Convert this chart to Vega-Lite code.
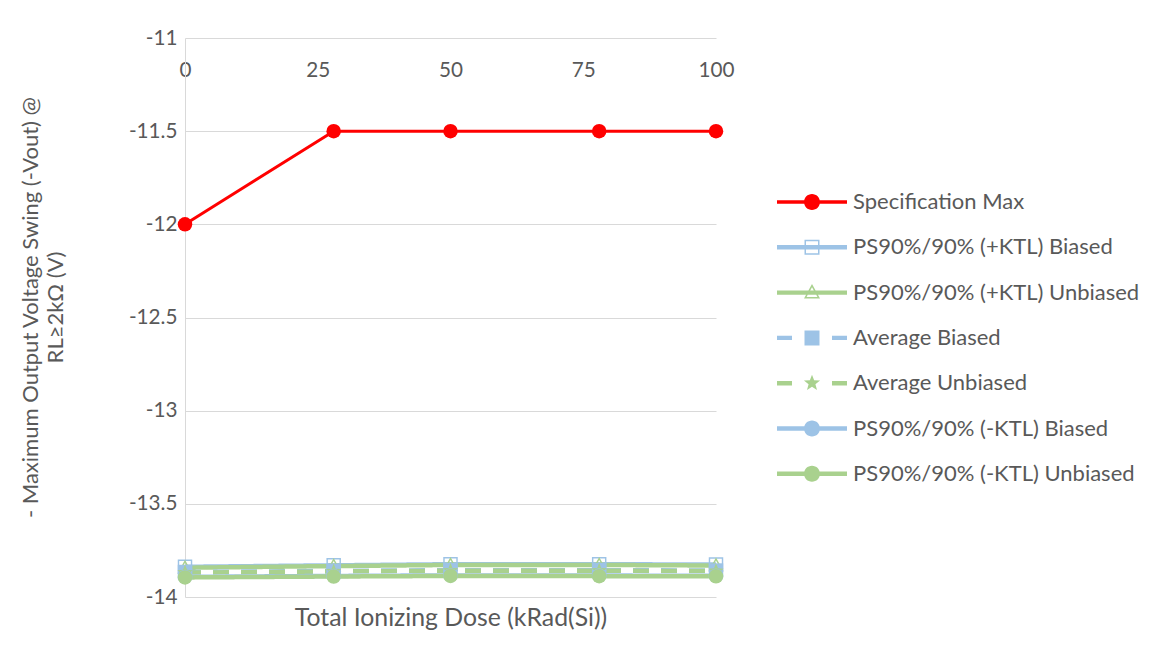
{
  "$schema": "https://vega.github.io/schema/vega-lite/v6.json",
  "width": 531,
  "height": 559,
  "autosize": {"type": "none"},
  "padding": {"left": 185, "top": 38, "right": 433, "bottom": 63},
  "background": "white",
  "config": {
    "view": {"stroke": null},
    "font": "Lato",
    "axis": {"labelFont": "Lato", "titleFont": "Lato"},
    "legend": {"labelFont": "Lato"}
  },
  "data": {
    "values": [
      {"series": "Specification Max", "dose": 0, "v": -12},
      {"series": "Specification Max", "dose": 28, "v": -11.5},
      {"series": "Specification Max", "dose": 50, "v": -11.5},
      {"series": "Specification Max", "dose": 78, "v": -11.5},
      {"series": "Specification Max", "dose": 100, "v": -11.5},
      {"series": "PS90%/90% (+KTL) Biased", "dose": 0, "v": -13.838},
      {"series": "PS90%/90% (+KTL) Biased", "dose": 28, "v": -13.83},
      {"series": "PS90%/90% (+KTL) Biased", "dose": 50, "v": -13.824},
      {"series": "PS90%/90% (+KTL) Biased", "dose": 78, "v": -13.824},
      {"series": "PS90%/90% (+KTL) Biased", "dose": 100, "v": -13.826},
      {"series": "PS90%/90% (+KTL) Unbiased", "dose": 0, "v": -13.843},
      {"series": "PS90%/90% (+KTL) Unbiased", "dose": 28, "v": -13.834},
      {"series": "PS90%/90% (+KTL) Unbiased", "dose": 50, "v": -13.828},
      {"series": "PS90%/90% (+KTL) Unbiased", "dose": 78, "v": -13.828},
      {"series": "PS90%/90% (+KTL) Unbiased", "dose": 100, "v": -13.831},
      {"series": "Average Biased", "dose": 0, "v": -13.866},
      {"series": "Average Biased", "dose": 28, "v": -13.86},
      {"series": "Average Biased", "dose": 50, "v": -13.856},
      {"series": "Average Biased", "dose": 78, "v": -13.856},
      {"series": "Average Biased", "dose": 100, "v": -13.858},
      {"series": "Average Unbiased", "dose": 0, "v": -13.869},
      {"series": "Average Unbiased", "dose": 28, "v": -13.863},
      {"series": "Average Unbiased", "dose": 50, "v": -13.859},
      {"series": "Average Unbiased", "dose": 78, "v": -13.859},
      {"series": "Average Unbiased", "dose": 100, "v": -13.861},
      {"series": "PS90%/90% (-KTL) Biased", "dose": 0, "v": -13.892},
      {"series": "PS90%/90% (-KTL) Biased", "dose": 28, "v": -13.887},
      {"series": "PS90%/90% (-KTL) Biased", "dose": 50, "v": -13.884},
      {"series": "PS90%/90% (-KTL) Biased", "dose": 78, "v": -13.885},
      {"series": "PS90%/90% (-KTL) Biased", "dose": 100, "v": -13.886},
      {"series": "PS90%/90% (-KTL) Unbiased", "dose": 0, "v": -13.895},
      {"series": "PS90%/90% (-KTL) Unbiased", "dose": 28, "v": -13.89},
      {"series": "PS90%/90% (-KTL) Unbiased", "dose": 50, "v": -13.887},
      {"series": "PS90%/90% (-KTL) Unbiased", "dose": 78, "v": -13.888},
      {"series": "PS90%/90% (-KTL) Unbiased", "dose": 100, "v": -13.889}
    ]
  },
  "encoding": {
    "x": {
      "field": "dose",
      "type": "quantitative",
      "scale": {"domain": [0, 100], "nice": false, "zero": false},
      "axis": {
        "orient": "bottom",
        "values": [0, 25, 50, 75, 100],
        "labelExpr": "'' + datum.value",
        "domain": false,
        "ticks": false,
        "tickSize": 0,
        "grid": false,
        "labelFlush": false,
        "labelOverlap": false,
        "labelPadding": -527,
        "labelBaseline": "middle",
        "labelFontSize": 20.7,
        "labelColor": "#595959",
        "title": "Total Ionizing Dose (kRad(Si))",
        "titleY": 21,
        "titleBaseline": "middle",
        "titleFontSize": 24.8,
        "titleFontWeight": "normal",
        "titleColor": "#595959"
      }
    },
    "y": {
      "field": "v",
      "type": "quantitative",
      "scale": {"domain": [-14, -11], "nice": false, "zero": false},
      "axis": {
        "values": [-14, -13.5, -13, -12.5, -12, -11.5, -11],
        "labelExpr": "'' + datum.value",
        "domain": true,
        "domainColor": "#D9D9D9",
        "domainWidth": 1,
        "ticks": false,
        "tickSize": 0,
        "grid": true,
        "gridColor": "#D9D9D9",
        "gridWidth": 1,
        "labelFlush": false,
        "labelOverlap": false,
        "labelPadding": 8,
        "labelFontSize": 20.7,
        "labelColor": "#595959",
        "title": ["- Maximum Output Voltage Swing (-Vout) @", "RL≥2kΩ (V)"],
        "titleX": -165,
        "titleY": 269,
        "titleAngle": -90,
        "titleAlign": "center",
        "titleBaseline": "top",
        "titleLineHeight": 25,
        "titleFontSize": 22,
        "titleFontWeight": "normal",
        "titleColor": "#595959"
      }
    }
  },
  "layer": [
    {
      "transform": [{"filter": "datum.series === 'Specification Max'"}],
      "mark": {"type": "line", "strokeWidth": 3, "strokeJoin": "round"},
      "encoding": {
        "color": {
          "field": "series",
          "type": "nominal",
          "scale": {
            "domain": ["Specification Max", "PS90%/90% (+KTL) Biased", "PS90%/90% (+KTL) Unbiased", "Average Biased", "Average Unbiased", "PS90%/90% (-KTL) Biased", "PS90%/90% (-KTL) Unbiased"],
            "range": ["#FF0000", "#9DC3E6", "#A9D18E", "#9DC3E6", "#A9D18E", "#9DC3E6", "#A9D18E"]
          },
          "legend": null
        }
      }
    },
    {
      "transform": [{"filter": "datum.series !== 'Specification Max'"}],
      "mark": {"type": "line", "strokeWidth": 4.5, "strokeJoin": "round"},
      "encoding": {
        "color": {"field": "series", "type": "nominal", "legend": null},
        "strokeDash": {
          "field": "series",
          "type": "nominal",
          "scale": {
            "domain": ["Specification Max", "PS90%/90% (+KTL) Biased", "PS90%/90% (+KTL) Unbiased", "Average Biased", "Average Unbiased", "PS90%/90% (-KTL) Biased", "PS90%/90% (-KTL) Unbiased"],
            "range": [[1, 0], [1, 0], [1, 0], [16, 12], [16, 12], [1, 0], [1, 0]]
          },
          "legend": null
        }
      }
    },
    {
      "mark": {"type": "point", "filled": true, "opacity": 1, "size": 210, "strokeWidth": 0},
      "encoding": {
        "color": {"field": "series", "type": "nominal", "legend": null},
        "shape": {
          "field": "series",
          "type": "nominal",
          "scale": {
            "domain": ["Specification Max", "PS90%/90% (+KTL) Biased", "PS90%/90% (+KTL) Unbiased", "Average Biased", "Average Unbiased", "PS90%/90% (-KTL) Biased", "PS90%/90% (-KTL) Unbiased"],
            "range": [
              "circle",
              "M-1,-1H1V1H-1Z M-0.8,-0.8V0.8H0.8V-0.8Z",
              "M0,-1.1L1.05,0.8L-1.05,0.8Z M0,-0.69L-0.71,0.6L0.71,0.6Z",
              "square",
              "M0,-1.1L0.276,-0.38L1.046,-0.34L0.447,0.145L0.647,0.89L0,0.47L-0.647,0.89L-0.447,0.145L-1.046,-0.34L-0.276,-0.38Z",
              "circle",
              "circle"
            ]
          },
          "legend": null
        }
      }
    },
    {
      "transform": [{"filter": "datum.dose < 0"}],
      "mark": {"type": "point", "filled": true, "opacity": 1, "strokeWidth": 0},
      "encoding": {
        "fill": {
          "field": "series",
          "type": "nominal",
          "scale": {
            "domain": ["Specification Max", "PS90%/90% (+KTL) Biased", "PS90%/90% (+KTL) Unbiased", "Average Biased", "Average Unbiased", "PS90%/90% (-KTL) Biased", "PS90%/90% (-KTL) Unbiased"],
            "range": ["#FF0000", "#9DC3E6", "#A9D18E", "#9DC3E6", "#A9D18E", "#9DC3E6", "#A9D18E"]
          },
          "legend": {
            "orient": "none",
            "legendX": 616,
            "legendY": 153,
            "title": null,
            "symbolSize": 400,
            "symbolStrokeWidth": 0,
            "labelFontSize": 22,
            "labelColor": "#595959",
            "labelOffset": 30,
            "labelLimit": 0,
            "rowPadding": 23.3,
            "padding": 0
          }
        },
        "shape": {
          "field": "series",
          "type": "nominal",
          "scale": {
            "domain": ["Specification Max", "PS90%/90% (+KTL) Biased", "PS90%/90% (+KTL) Unbiased", "Average Biased", "Average Unbiased", "PS90%/90% (-KTL) Biased", "PS90%/90% (-KTL) Unbiased"],
            "range": [
              "M-3.5,-0.17H3.5V0.17H-3.5Z M-0.8,0A0.8,0.8 0 1,1 0.8,0A0.8,0.8 0 1,1 -0.8,0Z",
              "M-3.5,-0.22H3.5V0.22H-3.5Z M-0.75,-0.75H0.75V0.75H-0.75Z M-0.6,-0.6V0.6H0.6V-0.6Z",
              "M-3.5,-0.22H3.5V0.22H-3.5Z M0,-0.85L0.8,0.6L-0.8,0.6Z M0,-0.54L-0.55,0.45L0.55,0.45Z",
              "M-3.5,-0.22H-2.0V0.22H-3.5Z M-0.75,-0.75H0.75V0.75H-0.75Z M2.0,-0.22H3.5V0.22H2.0Z",
              "M-3.5,-0.22H-2.0V0.22H-3.5Z M2.0,-0.22H3.5V0.22H2.0Z M0,-0.85L0.212,-0.291L0.808,-0.263L0.342,0.111L0.5,0.688L0,0.36L-0.5,0.688L-0.342,0.111L-0.808,-0.263L-0.212,-0.291Z",
              "M-3.5,-0.22H3.5V0.22H-3.5Z M-0.8,0A0.8,0.8 0 1,1 0.8,0A0.8,0.8 0 1,1 -0.8,0Z",
              "M-3.5,-0.22H3.5V0.22H-3.5Z M-0.8,0A0.8,0.8 0 1,1 0.8,0A0.8,0.8 0 1,1 -0.8,0Z"
            ]
          },
          "legend": {
            "orient": "none",
            "legendX": 616,
            "legendY": 153,
            "title": null,
            "symbolSize": 400,
            "symbolStrokeWidth": 0,
            "labelFontSize": 22,
            "labelColor": "#595959",
            "labelOffset": 30,
            "labelLimit": 0,
            "rowPadding": 23.3,
            "padding": 0
          }
        }
      }
    }
  ],
  "resolve": {"scale": {"shape": "independent", "fill": "independent"}}
}
